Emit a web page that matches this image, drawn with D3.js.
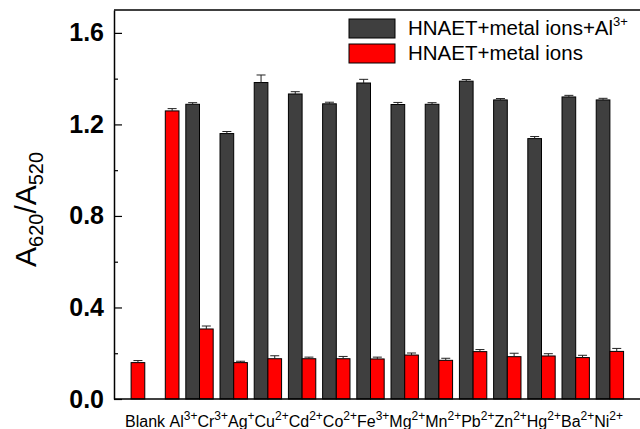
<!DOCTYPE html>
<html>
<head>
<meta charset="utf-8">
<script src="https://cdn.jsdelivr.net/npm/d3@7/dist/d3.min.js"></script>
<style>
  body { margin: 0; background: #fff; overflow: hidden; }
  svg { display: block; font-family: 'Liberation Sans', Arial, sans-serif; }
</style>
</head>
<body>
<svg width="640" height="429"></svg>
<script>
'use strict';
// ions on the x axis, name + charge as superscript
const IONS = ['Blank', 'Al', 'Cr', 'Ag', 'Cu', 'Cd', 'Co', 'Fe', 'Mg', 'Mn', 'Pb', 'Zn', 'Hg', 'Ba', 'Ni'];
const CHARGES = ['', '3+', '3+', '+', '2+', '2+', '2+', '3+', '2+', '2+', '2+', '2+', '2+', '2+', '2+'];
// HNAET + metal ions + Al3+ (dark bars)
const WITH_AL = [null, null, 1.288, 1.160, 1.383, 1.333, 1.290, 1.381, 1.287, 1.288, 1.389, 1.307, 1.138, 1.320, 1.307];
const WITH_AL_ERR = [null, null, 0.007, 0.009, 0.033, 0.010, 0.007, 0.016, 0.009, 0.007, 0.007, 0.006, 0.009, 0.007, 0.007];
// HNAET + metal ions (red bars)
const IONS_ONLY = [0.159, 1.259, 0.306, 0.159, 0.176, 0.176, 0.176, 0.175, 0.192, 0.169, 0.207, 0.185, 0.188, 0.181, 0.208];
const IONS_ONLY_ERR = [0.009, 0.010, 0.013, 0.006, 0.013, 0.007, 0.010, 0.008, 0.009, 0.009, 0.009, 0.015, 0.010, 0.010, 0.013];
const Y_TICKS = [0, 0.4, 0.8, 1.2, 1.6];

(() => {
  const DARK = '#3f3f3f';
  const RED = '#ff0000';

  const svg = d3.select('svg');
  const W = 640;
  const left = 114, plotTop = 10, plotBottom = 399;

  const x = d3.scaleBand().domain(IONS).range([left, 627]).padding(0);
  const y = d3.scaleLinear().domain([0, 1.7]).range([plotBottom, plotTop]);
  const bw = x.bandwidth() * 0.4;

  // frame: top line
  svg.append('line')
    .attr('x1', left).attr('x2', W).attr('y1', plotTop).attr('y2', plotTop)
    .attr('stroke', '#000').attr('stroke-width', 1.5);

  // minor ticks
  svg.append('g')
    .attr('transform', `translate(${left},0)`)
    .call(d3.axisLeft(y).tickValues([0.2, 0.6, 1.0, 1.4]).tickSize(-4).tickFormat(''))
    .call(g => g.select('.domain').remove())
    .selectAll('line').attr('stroke-width', 1.2);

  // major ticks + labels
  const ya = svg.append('g')
    .attr('transform', `translate(${left},0)`)
    .call(d3.axisLeft(y).tickValues(Y_TICKS).tickSize(-8).tickSizeOuter(0).tickPadding(10).tickFormat(d3.format('.1f')));
  ya.select('.domain').attr('stroke-width', 1.5);
  ya.selectAll('line').attr('stroke-width', 1.2);
  ya.selectAll('text')
    .attr('font-size', 25).attr('font-weight', 'bold')
    .attr('font-family', "'Liberation Sans', Arial, sans-serif")
    .attr('fill', '#000');

  const rows = IONS.map((ion, i) => ({
    ion, dark: WITH_AL[i], darkErr: WITH_AL_ERR[i], red: IONS_ONLY[i], redErr: IONS_ONLY_ERR[i]
  }));
  const cx = d => x(d.ion) + x.bandwidth() / 2;

  // dark bars
  const darkRows = rows.filter(d => d.dark != null);
  svg.append('g').selectAll('rect').data(darkRows).join('rect')
    .attr('x', d => cx(d) - bw)
    .attr('y', d => y(d.dark))
    .attr('width', bw)
    .attr('height', d => y(0) - y(d.dark))
    .attr('fill', DARK).attr('stroke', '#000').attr('stroke-width', 1);

  // red bars
  svg.append('g').selectAll('rect').data(rows).join('rect')
    .attr('x', d => cx(d))
    .attr('y', d => y(d.red))
    .attr('width', bw)
    .attr('height', d => y(0) - y(d.red))
    .attr('fill', RED).attr('stroke', '#000').attr('stroke-width', 1);

  // error bars
  function errBars(data, getX, getV, getE) {
    const g = svg.append('g').attr('stroke', '#222').attr('stroke-width', 1);
    g.selectAll('line.v').data(data).join('line').attr('class', 'v')
      .attr('x1', getX).attr('x2', getX)
      .attr('y1', d => y(getV(d))).attr('y2', d => y(getV(d) + getE(d)));
    g.selectAll('line.c').data(data).join('line').attr('class', 'c')
      .attr('x1', d => getX(d) - 4.5).attr('x2', d => getX(d) + 4.5)
      .attr('y1', d => y(getV(d) + getE(d))).attr('y2', d => y(getV(d) + getE(d)));
  }
  errBars(darkRows, d => cx(d) - bw / 2, d => d.dark, d => d.darkErr);
  errBars(rows, d => cx(d) + bw / 2, d => d.red, d => d.redErr);

  // bottom axis line
  svg.append('line')
    .attr('x1', left).attr('x2', W).attr('y1', plotBottom).attr('y2', plotBottom)
    .attr('stroke', '#000').attr('stroke-width', 1.5);

  // x labels, written as one running line like the original
  const xl = svg.append('text')
    .attr('x', 125).attr('y', 427)
    .attr('font-size', 16).attr('fill', '#000');
  IONS.forEach((ion, i) => {
    xl.append('tspan').attr('y', 427).text(ion + (i === 0 ? ' ' : ''));
    if (CHARGES[i]) {
      xl.append('tspan').attr('y', 420).attr('font-size', 12).text(CHARGES[i]);
    }
  });

  // y title, runs upward from its bottom end
  const yt = svg.append('text')
    .attr('transform', 'translate(36,267) rotate(-90)')
    .attr('font-size', 30).attr('fill', '#000');
  yt.append('tspan').attr('y', 0).text('A');
  yt.append('tspan').attr('y', 7).attr('font-size', 20).text('620');
  yt.append('tspan').attr('y', 0).text('/A');
  yt.append('tspan').attr('y', 7).attr('font-size', 20).text('520');

  // legend
  const legend = [
    { label: 'HNAET+metal ions+Al', sup: '3+', color: DARK },
    { label: 'HNAET+metal ions', sup: '', color: RED }
  ];
  const lg = svg.append('g').selectAll('g').data(legend).join('g')
    .attr('transform', (d, i) => `translate(349,${19 + i * 25})`);
  lg.append('rect')
    .attr('width', 46).attr('height', 19)
    .attr('fill', d => d.color).attr('stroke', '#000').attr('stroke-width', 1);
  const lt = lg.append('text')
    .attr('x', 59).attr('y', 16)
    .attr('font-size', 20.5).attr('fill', '#000');
  lt.append('tspan').attr('y', 16).text(d => d.label);
  lt.append('tspan').attr('y', 7).attr('font-size', 13).text(d => d.sup);
})();
</script>
</body>
</html>
